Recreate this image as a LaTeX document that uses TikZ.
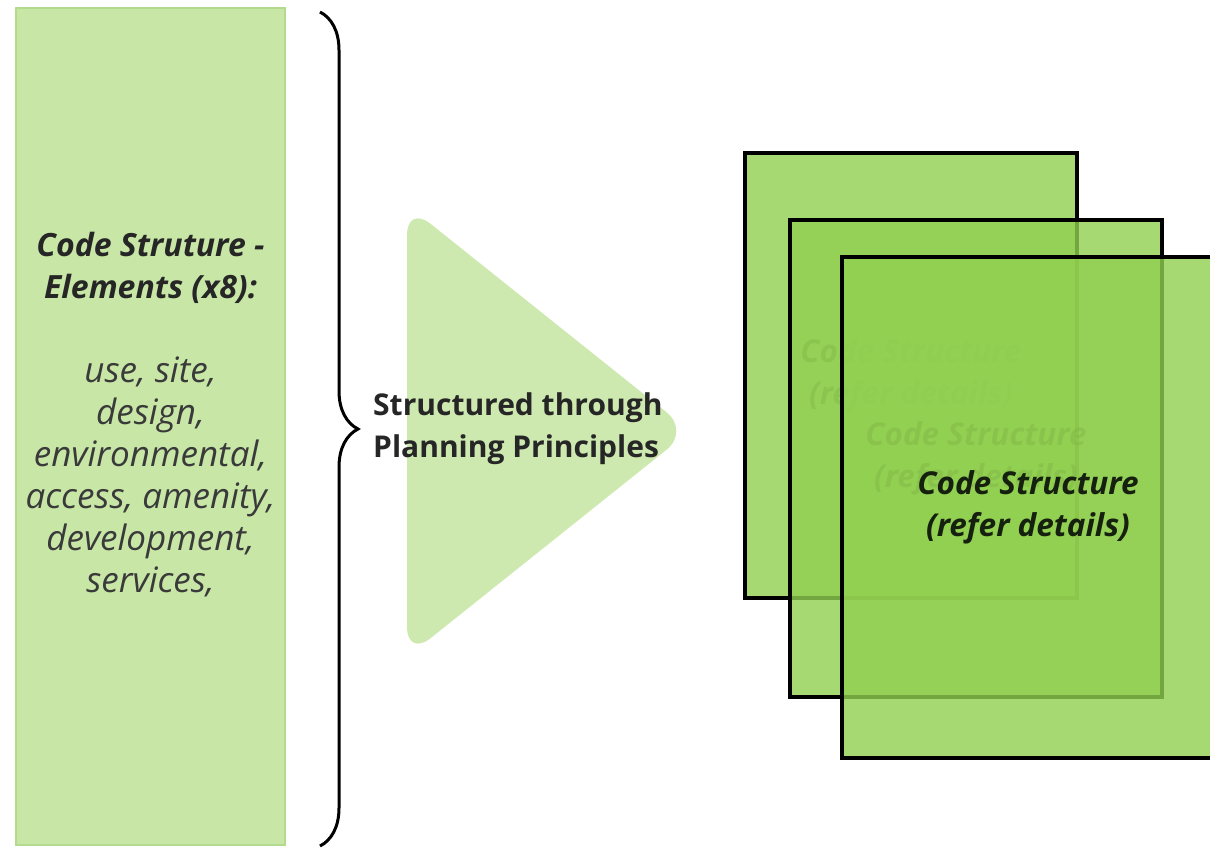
\documentclass[tikz,border=0pt]{standalone}
\usepackage{fontspec}
\setmainfont{Open Sans}
\usetikzlibrary{decorations.pathreplacing}

\definecolor{leafgreen}{HTML}{92D050}
\definecolor{barline}{HTML}{B2DB8E}
\definecolor{inktext}{HTML}{262626}
\definecolor{softtext}{HTML}{3A3A3A}
\definecolor{cardtext}{HTML}{15200F}

\tikzset{
  elementbar/.style={draw=barline, line width=1.5, fill=leafgreen, fill opacity=0.5,
    draw opacity=1, inner sep=0, minimum width=269, minimum height=837},
  bodytext/.style={inner sep=0, align=center, text=softtext,
    font=\fontsize{35}{42}\selectfont},
  flowarrow/.style={fill=leafgreen, fill opacity=0.45, rounded corners=30},
  headtext/.style={inner sep=0, align=left, text=inktext,
    font=\fontsize{30}{42}\selectfont\bfseries},
  bracestroke/.style={draw=black, line width=3,
    decorate, decoration={brace, amplitude=38}},
  card/.style={draw=black, line width=4, fill=leafgreen, fill opacity=0.8,
    draw opacity=1, text opacity=1, text=cardtext, align=center, inner sep=0,
    font=\fontsize{31.5}{42}\selectfont\bfseries\itshape},
  backcard/.style={card, text opacity=0.35},
}

\begin{document}
\begin{tikzpicture}[x=1pt, y=-1pt]
  \useasboundingbox (0,0) rectangle (1210,849);
  \clip (0,0) rectangle (1210,849);
  \fill[white] (0,0) rectangle (1210,849);

  % element column
  \node[elementbar] (bar) at (150.5,426.5) {};
  \node[bodytext] (elements) at (150.5,415) {%
    {\color{inktext}\fontsize{32}{43}\selectfont\bfseries\itshape Code Struture -}\\
    {\color{inktext}\fontsize{32}{43}\selectfont\bfseries\itshape Elements (x8):}\\[42pt]
    \textit{use, site,}\\
    \textit{design,}\\
    \textit{environmental,}\\
    \textit{access, amenity,}\\
    \textit{development,}\\
    \textit{services,}};

  % grouping brace
  \coordinate (bracetop) at (320,12);
  \coordinate (bracebot) at (320,846);
  \draw[bracestroke] (bracetop) -- (bracebot);

  % process arrow
  \fill[flowarrow] (407,205) -- (407,657) -- (690,431) -- cycle;
  \node[headtext, anchor=west] (principles) at (373,429)
    {Structured through\\Planning Principles};

  % stacked code structure sheets
  \node[backcard, minimum width=332, minimum height=445] (card1) at (911,375.5)
    {Code Structure\\(refer details)};
  \node[backcard, minimum width=372, minimum height=477] (card2) at (976,458.5)
    {Code Structure\\(refer details)};
  \node[card, minimum width=372, minimum height=501] (card3) at (1028,507.5)
    {Code Structure\\(refer details)};
\end{tikzpicture}
\end{document}
